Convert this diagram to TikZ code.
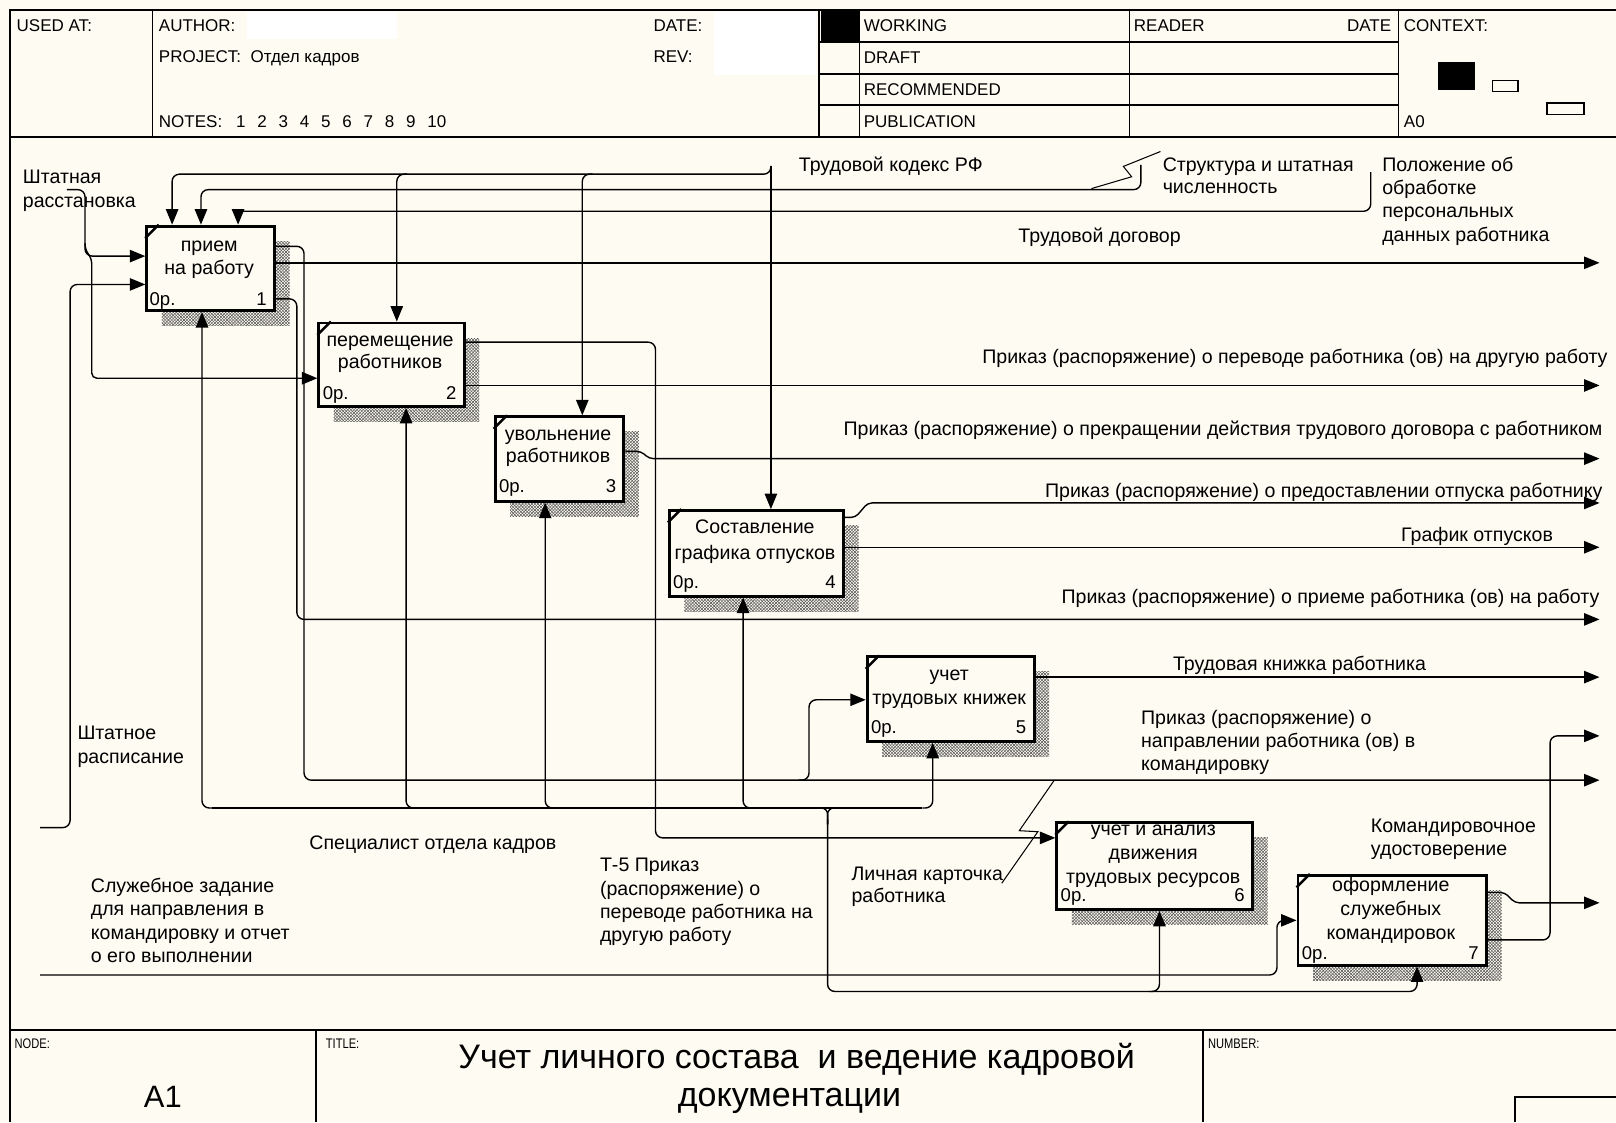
\documentclass[tikz,border=0pt]{standalone}
\usepackage{fontspec}
\setmainfont{Liberation Sans}
\newfontfamily\narrowfont[FakeStretch=0.8]{Liberation Sans}
\usetikzlibrary{arrows.meta,patterns}
\definecolor{paper}{RGB}{253,251,242}

% activity box: hatched shadow, framed box, corner tick
\newcommand\actbox[5]{%
  \fill[pattern=north east lines, pattern color=black!70] (#2+16,#3+16) rectangle (#2+#4+16,#3+#5+16);
  \fill[pattern=north west lines, pattern color=black!70] (#2+16,#3+16) rectangle (#2+#4+16,#3+#5+16);
  \node[fn, minimum width=#4pt, minimum height=#5pt] (#1) at (#2,#3) {};
  \draw[line width=2.5pt] ([yshift=-13pt]#1.north west) -- ([xshift=13pt]#1.north west);
}

\begin{document}
\begin{tikzpicture}[x=1pt,y=-1pt,
  ln/.style={line width=1.35pt, rounded corners=7pt},
  arr/.style={ln, -{Triangle[length=15pt,width=12pt]}},
  framel/.style={line width=1.8pt},
  squig/.style={line width=1pt},
  hdr/.style={font=\fontsize{16.5}{20}\selectfont, inner sep=0pt, anchor=base west},
  tiny/.style={font=\narrowfont\fontsize{13.5}{16}\selectfont, inner sep=0pt, anchor=base west},
  lbl/.style={font=\fontsize{19}{23}\selectfont, inner sep=0pt, anchor=base west},
  lblr/.style={lbl, anchor=base east},
  boxtxt/.style={font=\fontsize{19}{23}\selectfont, inner sep=0pt, anchor=base},
  cost/.style={font=\fontsize{18}{22}\selectfont, inner sep=0pt, anchor=base west},
  num/.style={font=\fontsize{18}{22}\selectfont, inner sep=0pt, anchor=base east},
  fn/.style={draw, line width=2.8pt, fill=paper, inner sep=0pt, anchor=north west},
]
\useasboundingbox (0,0) rectangle (1568,1089);
\fill[paper] (0,0) rectangle (1568,1089);

% ---------- header ----------
\fill[white] (240,12) rectangle (385,38);
\fill[white] (693,12) rectangle (792,73);
\fill[black] (797,11) rectangle (833,41);
\draw[framel] (10,1089) -- (10,10) -- (1568,10);
\draw[framel] (10,133) -- (1568,133);
\draw[framel] (148,10) -- (148,133);
\draw[framel] (795,10) -- (795,133);
\draw[framel] (834,10) -- (834,133);
\draw[framel] (1096,10) -- (1096,133);
\draw[framel] (1357,10) -- (1357,133);
\foreach \yy in {41,72,102} \draw[framel] (795,\yy) -- (1357,\yy);

\node[hdr] (usedat) at (16,31) {USED AT:};
\node[hdr] (author) at (154,31) {AUTHOR:};
\node[hdr] (project) at (154,61) {PROJECT:\ \ Отдел кадров};
\node[hdr] (notes) at (154,124) {NOTES:};
\foreach \n [count=\i] in {1,...,10}
  \node[hdr] (note\i) at ({229+20.6*(\i-1)},124) {\n};
\node[hdr] (date) at (634,31) {DATE:};
\node[hdr] (rev) at (634,61) {REV:};
\node[hdr] (working) at (838,31) {WORKING};
\node[hdr] (draft) at (838,62) {DRAFT};
\node[hdr] (recom) at (838,93) {RECOMMENDED};
\node[hdr] (publ) at (838,124) {PUBLICATION};
\node[hdr] (reader) at (1100,31) {READER};
\node[hdr, anchor=base east] (rdate) at (1350,31) {DATE};
\node[hdr] (context) at (1362,31) {CONTEXT:};
\node[hdr] (a0) at (1362,124) {A0};
\fill[black] (1395,60) rectangle (1431,87);
\draw[line width=1.2pt] (1448,78) rectangle (1473,89);
\draw[line width=1.2pt] (1501,100) rectangle (1537,111);

% ---------- footer ----------
\draw[framel] (10,999) -- (1568,999);
\draw[framel] (307,999) -- (307,1089);
\draw[framel] (1167,999) -- (1167,1089);
\draw[framel] (1470,1089) -- (1470,1064) -- (1568,1064);
\node[tiny] (nodelbl) at (14,1017) {NODE:};
\node[tiny] (titlelbl) at (316,1017) {TITLE:};
\node[tiny] (numberlbl) at (1172,1017) {NUMBER:};
\node[font=\fontsize{30}{34}\selectfont, inner sep=0pt, anchor=base] (nodeid) at (158,1075) {A1};
\node[font=\fontsize{33}{38}\selectfont, inner sep=0pt, anchor=base] (ttl1) at (773,1037) {Учет личного состава\ \ и ведение кадровой};
\node[font=\fontsize{33}{38}\selectfont, inner sep=0pt, anchor=base] (ttl2) at (766,1074) {документации};

% ---------- activity boxes ----------
\actbox{b1}{141}{218}{124}{82}
\actbox{b2}{308}{312}{141}{81}
\actbox{b3}{479}{403}{125}{82}
\actbox{b4}{648}{494}{169}{83}
\actbox{b5}{840}{636}{162}{82}
\actbox{b6}{1024}{797}{190}{84}
\actbox{b7}{1258}{848}{183}{87}

\node[boxtxt] (t1a) at (203,244) {прием};
\node[boxtxt] (t1b) at (203,266) {на работу};
\node[cost] (c1) at (145,296) {0р.};
\node[num] (n1) at (259,296) {1};

\node[boxtxt] (t2a) at (378.5,336) {перемещение};
\node[boxtxt] (t2b) at (378.5,358) {работников};
\node[cost] (c2) at (313,388) {0р.};
\node[num] (n2) at (443,388) {2};

\node[boxtxt] (t3a) at (541.5,427) {увольнение};
\node[boxtxt] (t3b) at (541.5,449) {работников};
\node[cost] (c3) at (484,478) {0р.};
\node[num] (n3) at (598,478) {3};

\node[boxtxt] (t4a) at (732.5,518) {Составление};
\node[boxtxt] (t4b) at (732.5,543) {графика отпусков};
\node[cost] (c4) at (653,571) {0р.};
\node[num] (n4) at (811,571) {4};

\node[boxtxt] (t5a) at (921,660) {учет};
\node[boxtxt] (t5b) at (921,684) {трудовых книжек};
\node[cost] (c5) at (845,712) {0р.};
\node[num] (n5) at (996,712) {5};

\node[boxtxt] (t6a) at (1119,811) {учет и анализ};
\node[boxtxt] (t6b) at (1119,834) {движения};
\node[boxtxt] (t6c) at (1119,857) {трудовых ресурсов};
\node[cost] (c6) at (1029,875) {0р.};
\node[num] (n6) at (1208,875) {6};

\node[boxtxt] (t7a) at (1349.5,865) {оформление};
\node[boxtxt] (t7b) at (1349.5,888) {служебных};
\node[boxtxt] (t7c) at (1349.5,912) {командировок};
\node[cost] (c7) at (1263,931) {0р.};
\node[num] (n7) at (1435,931) {7};

% ---------- controls ----------
\draw[arr] (748,161) -- (b4.north -| 748,0);
\draw[arr] (748,161) |- (167,169) -- (b1.north -| 167,0);
\draw[arr] (395,169) -| (b2.north -| 385,0);
\draw[arr] (575,169) -| (b3.north -| 565,0);
\draw[arr] (1107,160) |- (195,184) -- (b1.north -| 195,0);
\draw[ln] (1330,167) |- (231,205);
\draw[arr] (231,204) -- (b1.north -| 231,0);
\draw[squig] (1059,183) -- (1098,171.5) -- (1090,161.5) -- (1126,147);

% ---------- inputs ----------
\draw[arr] (65,184) -| (82.5,248.5) -- (b1.west |- 0,248.5);
\draw[arr, rounded corners=5pt] (82.5,236) -- (82.5,242) -- (89,251) |- (b2.west |- 0,367);
\draw[arr] (39,803) -| (68,276) -- (b1.west |- 0,276);
\draw[arr] (775,757) -| (785,679) -- (b5.west |- 0,679);
\draw[arr] (b2.east |- 0,332) -| (636,813) -- (b6.west |- 0,813);
\draw[arr] (39,946) -| (1239,893) -- (b7.west |- 0,893);
\draw[squig] (1023,757) -- (989,806) -- (1007,807) -- (972,857);

% ---------- outputs ----------
\draw[arr] (b1.east |- 0,255) -- (1552,255);
\draw[arr] (b1.east |- 0,239) -| (295,757) -- (1552,757);
\draw[arr] (b1.east |- 0,290) -| (288,601) -- (1552,601);
\draw[arr] (b2.east |- 0,374) -- (1552,374);
\draw[arr, rounded corners=4pt] (b3.east |- 0,438) -- (622,438) -- (630,445) -- (1552,445);
\draw[arr, rounded corners=4pt] (b4.east |- 0,502) -- (830,502) -- (842,488) -- (1552,488);
\draw[arr] (b4.east |- 0,531) -- (1552,531);
\draw[arr] (b5.east |- 0,657) -- (1552,657);
\draw[arr, rounded corners=4pt] (b7.east |- 0,866) -- (1460,866) -- (1470,876) -- (1552,876);
\draw[arr] (b7.east |- 0,912) -| (1504,714) -- (1552,714);

% ---------- mechanisms ----------
\draw[ln] (206,784) -- (895,784);
\draw[arr] (206,784) -| (b1.south -| 196,0);
\draw[arr] (404,784) -| (b2.south -| 394,0);
\draw[arr] (539,784) -| (b3.south -| 529,0);
\draw[arr] (731,784) -| (b4.south -| 721,0);
\draw[arr] (895,784) -| (b5.south -| 905,0);
\draw[ln, rounded corners=6pt] (794,784) -| (803,800);
\draw[ln, rounded corners=6pt] (812,784) -| (803,800);
\draw[ln] (803,795) |- (1365,962);
\draw[arr] (1115,962) -| (b6.south -| 1125,0);
\draw[arr] (1365,962) -| (b7.south -| 1375,0);

% ---------- arrow labels ----------
\node[lbl] (tkrf) at (775,166) {Трудовой кодекс РФ};
\foreach \t [count=\i] in {Структура и штатная, численность}
  \node[lbl] (str\i) at (1128,{166+22*(\i-1)}) {\t};
\foreach \t [count=\i] in {Положение об, обработке, персональных, данных работника}
  \node[lbl] (pol\i) at (1341,{166+22.7*(\i-1)}) {\t};
\node[lbl] (tdog) at (988,235) {Трудовой договор};
\foreach \t [count=\i] in {Штатная, расстановка}
  \node[lbl] (shr\i) at (22,{178+23*(\i-1)}) {\t};
\node[lblr] (opere) at (1560,353) {Приказ (распоряжение) о переводе работника (ов) на другую работу};
\node[lblr] (oprek) at (1555,423) {Приказ (распоряжение) о прекращении действия трудового договора с работником};
\node[lblr] (ootp) at (1555,483) {Приказ (распоряжение) о предоставлении отпуска работнику};
\node[lblr] (graf) at (1507,525) {График отпусков};
\node[lblr] (opri) at (1552,586) {Приказ (распоряжение) о приеме работника (ов) на работу};
\node[lbl] (tkn) at (1138,651) {Трудовая книжка работника};
\foreach \t [count=\i] in {Приказ (распоряжение) о, направлении работника (ов) в, командировку}
  \node[lbl] (okom\i) at (1107,{703+22.5*(\i-1)}) {\t};
\foreach \t [count=\i] in {Штатное, расписание}
  \node[lbl] (shrasp\i) at (75,{718+23*(\i-1)}) {\t};
\node[lbl] (spec) at (300,824) {Специалист отдела кадров};
\foreach \t [count=\i] in {Т-5 Приказ, (распоряжение) о, переводе работника на, другую работу}
  \node[lbl] (tfive\i) at (582,{846+22.5*(\i-1)}) {\t};
\foreach \t [count=\i] in {Личная карточка, работника}
  \node[lbl] (lk\i) at (826,{854+22*(\i-1)}) {\t};
\foreach \t [count=\i] in {Командировочное, удостоверение}
  \node[lbl] (kud\i) at (1330,{808+22*(\i-1)}) {\t};
\foreach \t [count=\i] in {Служебное задание, для направления в, командировку и отчет, о его выполнении}
  \node[lbl] (szad\i) at (88,{866+22.7*(\i-1)}) {\t};
\end{tikzpicture}
\end{document}
